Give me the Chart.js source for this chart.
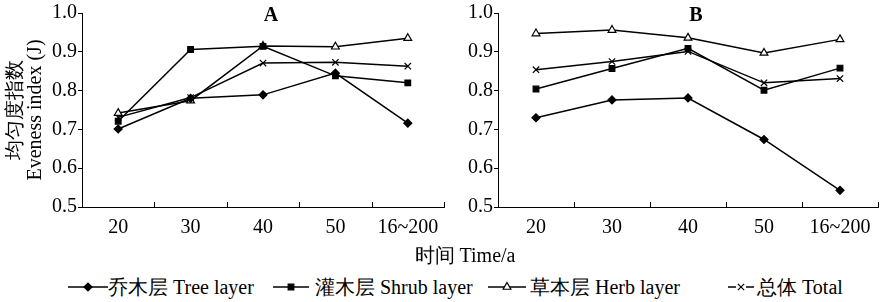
<!DOCTYPE html>
<html>
<head>
<meta charset="utf-8">
<script src="https://cdn.jsdelivr.net/npm/chart.js@4/dist/chart.umd.min.js"></script>
<style>
  html, body { margin: 0; padding: 0; background: #fff; }
  #wrap { position: relative; width: 884px; height: 302px; overflow: hidden;
    font-family: "Liberation Serif", "Times New Roman", serif; color: #000; }
  #cA { position: absolute; left: 0; top: 0; }
  #cB { position: absolute; left: 450px; top: 0; }
  #xtitle { position: absolute; left: 0; width: 930px; top: 243px; text-align: center; font-size: 20px; line-height: 24px; }
  .leg { position: absolute; top: 275px; height: 24px; font-size: 20px; line-height: 24px; white-space: nowrap; }
  .leg canvas { vertical-align: top; }
  .leg span { position: absolute; top: 0; }
</style>
</head>
<body>
<div id="wrap">
  <canvas id="cA" width="450" height="245"></canvas>
  <canvas id="cB" width="434" height="245"></canvas>
  <div id="xtitle">时间 Time/a</div>
  <div id="legend"></div>
</div>
<script>
const categories = ["20", "30", "40", "50", "16~200"];
const seriesNames = ["乔木层 Tree layer", "灌木层 Shrub layer", "草本层 Herb layer", "总体 Total"];
const yTicks = [0.5, 0.6, 0.7, 0.8, 0.9, 1.0];

// panel A
const treeA = [0.701, 0.780, 0.789, 0.845, 0.716];
const shrubA = [0.721, 0.906, 0.914, 0.838, 0.820];
const herbA = [0.742, 0.774, 0.915, 0.913, 0.935];
const totalA = [0.731, 0.782, 0.871, 0.873, 0.863];

// panel B
const treeB = [0.730, 0.776, 0.781, 0.674, 0.543];
const shrubB = [0.804, 0.857, 0.909, 0.801, 0.858];
const herbB = [0.947, 0.956, 0.936, 0.897, 0.932];
const totalB = [0.854, 0.875, 0.901, 0.820, 0.831];

const FONT = "'Liberation Serif', serif";

const markers = [
  { pointStyle: "rectRot", radius: 4, fill: "#000" },
  { pointStyle: "rect", radius: 4, fill: "#000" },
  { pointStyle: "triangle", radius: 4.5, fill: "#fff" },
  { pointStyle: "crossRot", radius: 4.5, fill: "#000" },
];

function makeDatasets(lists) {
  return lists.map((vals, i) => ({
    label: seriesNames[i],
    data: vals,
    borderColor: "#000",
    borderWidth: 1.5,
    pointStyle: markers[i].pointStyle,
    pointRadius: markers[i].radius,
    pointBackgroundColor: markers[i].fill,
    pointBorderColor: "#000",
    pointBorderWidth: 1.2,
    tension: 0,
    fill: false,
  }));
}

// inward x tick marks at category boundaries + panel letter
const panelDeco = {
  id: "panelDeco",
  afterDraw(chart, args, opts) {
    const ctx = chart.ctx;
    const xs = chart.scales.x;
    const area = chart.chartArea;
    const step = (xs.right - xs.left) / categories.length;
    ctx.save();
    ctx.strokeStyle = "#000";
    ctx.lineWidth = 1;
    for (let i = 1; i <= categories.length; i++) {
      const x = Math.round(xs.left + step * i) + 0.5;
      ctx.beginPath();
      ctx.moveTo(x, area.bottom);
      ctx.lineTo(x, area.bottom - 5);
      ctx.stroke();
    }
    ctx.fillStyle = "#000";
    ctx.font = "bold 20px " + FONT;
    ctx.textAlign = "center";
    ctx.textBaseline = "middle";
    ctx.fillText(opts.letter, (area.left + area.right) / 2 + 8, area.top + 3);
    ctx.restore();
  },
};

function makeChart(id, lists, letter, axisWidth, showTitle) {
  return new Chart(document.getElementById(id), {
    type: "line",
    data: { labels: categories, datasets: makeDatasets(lists) },
    plugins: [panelDeco],
    options: {
      responsive: false,
      animation: false,
      layout: { padding: { top: 10, right: 6, left: 0, bottom: 0 } },
      scales: {
        x: {
          type: "category",
          offset: true,
          grid: { display: false },
          border: { display: true, color: "#000", width: 1 },
          ticks: { color: "#000", padding: 1, font: { family: FONT, size: 20 }, maxRotation: 0 },
          afterFit(scale) { scale.height = 38; },
        },
        y: {
          min: 0.5,
          max: 1.0,
          afterBuildTicks(scale) { scale.ticks = yTicks.map((v) => ({ value: v })); },
          grid: { drawOnChartArea: false, drawTicks: true, tickLength: 4, color: "#000" },
          border: { display: true, color: "#000", width: 1 },
          ticks: {
            color: "#000",
            padding: 1,
            font: { family: FONT, size: 20 },
            callback: (v) => Number(v).toFixed(1),
          },
          title: {
            display: showTitle,
            text: ["均匀度指数", "Eveness index (J)"],
            color: "#000",
            font: { family: FONT, size: 20, lineHeight: 1 },
            padding: { top: 6, bottom: 0 },
          },
          afterFit(scale) { scale.width = axisWidth; },
        },
      },
      plugins: {
        legend: { display: false },
        tooltip: { enabled: false },
        panelDeco: { letter: letter },
      },
    },
  });
}

makeChart("cA", [treeA, shrubA, herbA, totalA], "A", 82, true);
makeChart("cB", [treeB, shrubB, herbB, totalB], "B", 48, false);

// legend
const legendPos = [
  { line: 68, w: 40, text: 108 },
  { line: 273, w: 36, text: 315 },
  { line: 488, w: 38, text: 530 },
  { line: 728, w: 26, text: 757 },
];
const legendBox = document.getElementById("legend");
seriesNames.forEach((name, i) => {
  const p = legendPos[i];
  const item = document.createElement("div");
  item.className = "leg";
  item.style.left = p.line + "px";
  const c = document.createElement("canvas");
  c.width = p.w;
  c.height = 24;
  item.appendChild(c);
  const label = document.createElement("span");
  label.style.left = (p.text - p.line) + "px";
  label.textContent = name;
  item.appendChild(label);
  legendBox.appendChild(item);
  const ctx = c.getContext("2d");
  ctx.strokeStyle = "#000";
  ctx.lineWidth = 1.5;
  ctx.beginPath();
  if (i === 3) {
    ctx.moveTo(0, 12); ctx.lineTo(8, 12);
    ctx.moveTo(p.w - 8, 12); ctx.lineTo(p.w, 12);
  } else {
    ctx.moveTo(0, 12); ctx.lineTo(p.w, 12);
  }
  ctx.stroke();
  ctx.fillStyle = markers[i].fill;
  ctx.lineWidth = 1.2;
  Chart.helpers.drawPoint(ctx, {
    pointStyle: markers[i].pointStyle,
    radius: markers[i].radius,
    rotation: 0,
    borderWidth: 1.2,
  }, p.w / 2, 12);
});
</script>
</body>
</html>
